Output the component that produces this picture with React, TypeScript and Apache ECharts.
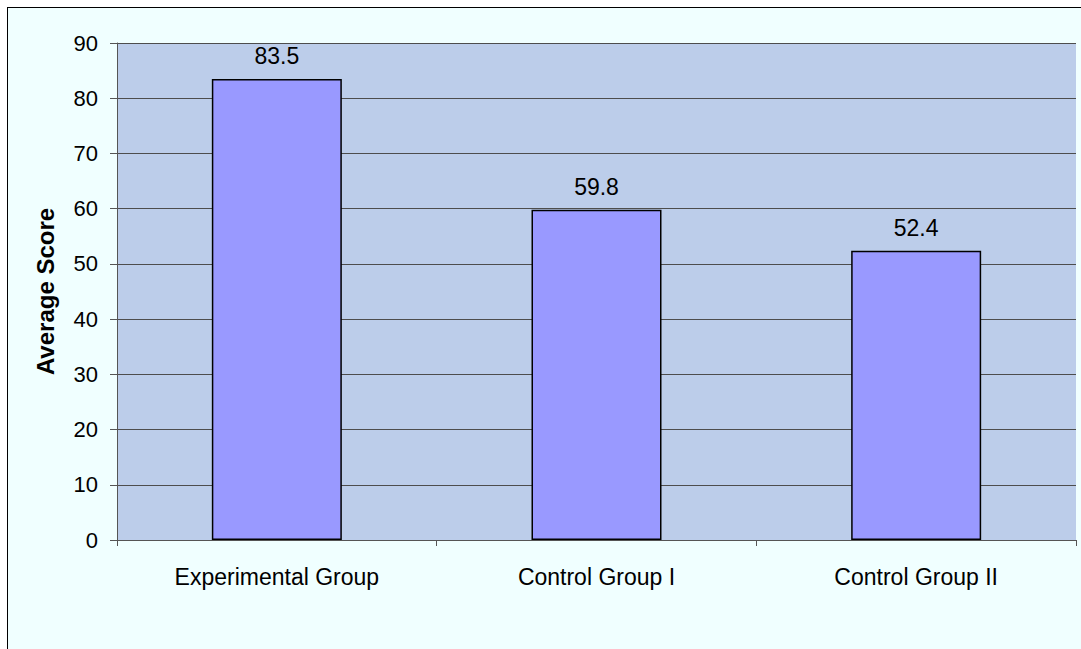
import React, { useEffect, useRef } from "react";
import * as echarts from "echarts";

const categories = ["Experimental Group", "Control Group I", "Control Group II"];
const scores = [83.5, 59.8, 52.4];
const yTicks = { min: 0, max: 90, interval: 10 };

export default function App() {
  const ref = useRef<HTMLDivElement>(null);
  useEffect(() => {
    if (!ref.current) return;
    const chart = echarts.init(ref.current, null, { renderer: "svg" });
    chart.setOption({
      animation: false,
      backgroundColor: "#F0FFFF",
      textStyle: { fontFamily: "Liberation Sans, Arial, sans-serif" },
      grid: {
        left: 109,
        top: 35,
        right: 5,
        bottom: 109,
        show: true,
        backgroundColor: "#BCCDEA",
        borderWidth: 0,
      },
      xAxis: {
        type: "category",
        data: categories,
        axisLine: { lineStyle: { color: "#555555", width: 1 } },
        axisTick: { show: true, length: 6, alignWithLabel: false, lineStyle: { color: "#555555" } },
        axisLabel: { color: "#000", fontSize: 23, margin: 25 },
      },
      yAxis: {
        type: "value",
        min: yTicks.min,
        max: yTicks.max,
        interval: yTicks.interval,
        name: "Average Score",
        nameLocation: "middle",
        nameGap: 60,
        nameRotate: 90,
        nameTextStyle: { color: "#000", fontSize: 24, fontWeight: "bold" },
        axisLine: { show: true, lineStyle: { color: "#555555", width: 1 } },
        axisTick: { show: true, length: 7, lineStyle: { color: "#555555" } },
        axisLabel: { color: "#000", fontSize: 22, margin: 19 },
        splitLine: { show: true, lineStyle: { color: "#4d4d4d", width: 1 } },
      },
      series: [
        {
          type: "bar",
          data: scores,
          barWidth: 130,
          itemStyle: { color: "#9999FF", borderColor: "#000", borderWidth: 1.5 },
          label: {
            show: true,
            position: "top",
            distance: 11,
            color: "#000",
            fontSize: 23,
            formatter: (p: any) => p.value.toFixed(1),
          },
        },
      ],
    });
    return () => chart.dispose();
  }, []);
  return (
    <div
      style={{
        position: "absolute",
        left: 7,
        top: 7,
        width: 1080,
        height: 650,
        border: "1px solid #000",
        boxSizing: "border-box",
        background: "#F0FFFF",
      }}
    >
      <div ref={ref} style={{ width: 1073, height: 641 }} />
    </div>
  );
}
